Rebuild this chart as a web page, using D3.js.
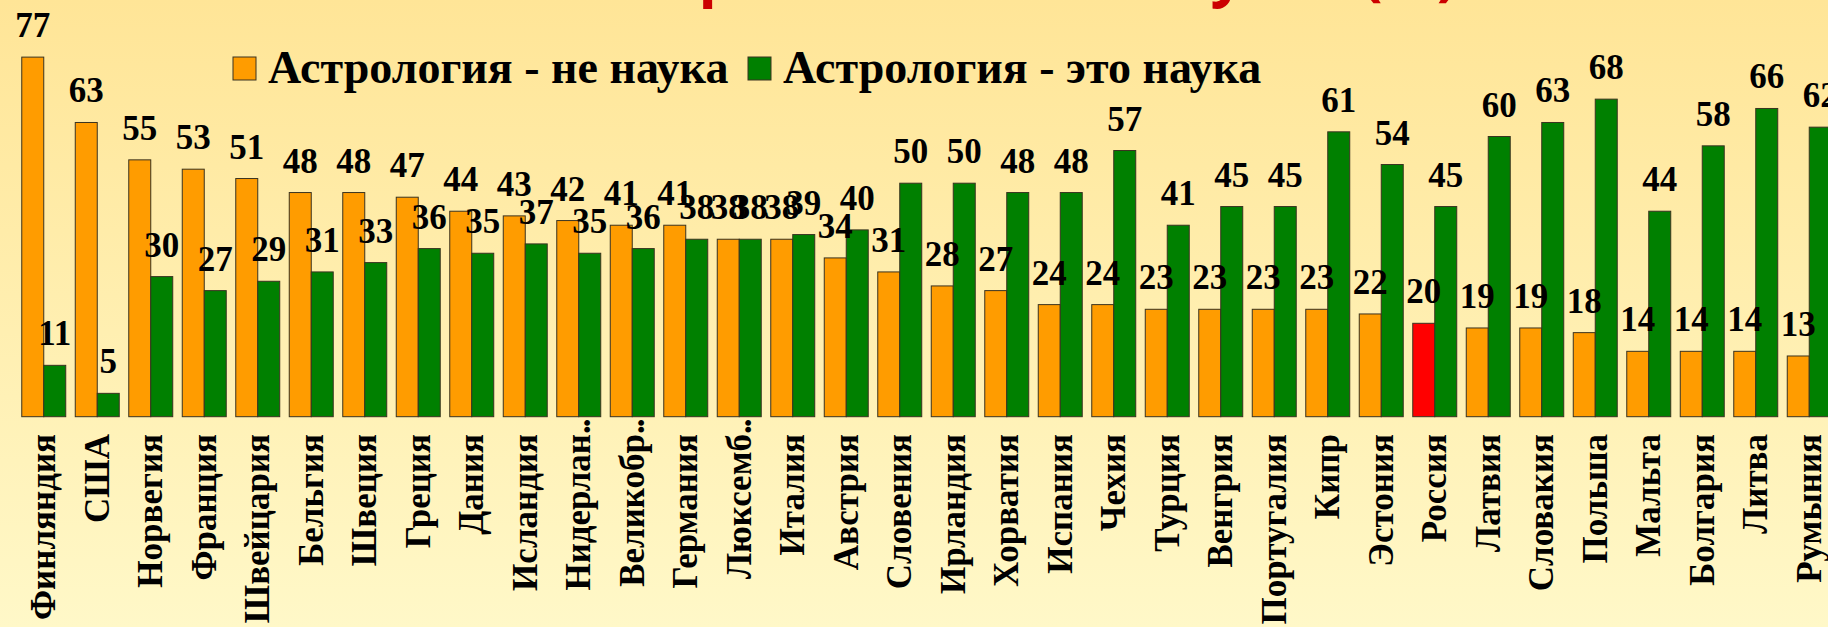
<!DOCTYPE html>
<html>
<head>
<meta charset="utf-8">
<script src="https://cdn.jsdelivr.net/npm/d3@7"></script>
<style>
  html, body { margin: 0; padding: 0; overflow: hidden; }
  body { width: 1828px; height: 627px; }
</style>
</head>
<body>
<div class="container"></div>
<script>
const countries = ["Финляндия", "США", "Норвегия", "Франция", "Швейцария", "Бельгия", "Швеция", "Греция",
    "Дания", "Исландия", "Нидерлан…", "Великобр…", "Германия", "Люксемб…", "Италия", "Австрия",
    "Словения", "Ирландия", "Хорватия", "Испания", "Чехия", "Турция", "Венгрия", "Португалия",
    "Кипр", "Эстония", "Россия", "Латвия", "Словакия", "Польша", "Мальта", "Болгария", "Литва", "Румыния"]
const notScience = [77, 63, 55, 53, 51, 48, 48, 47, 44, 43, 42, 41, 41, 38, 38, 34, 31, 28, 27, 24, 24,
    23, 23, 23, 23, 22, 20, 19, 19, 18, 14, 14, 14, 13]
const isScience = [11, 5, 30, 27, 29, 31, 33, 36, 35, 37, 35, 36, 38, 38, 39, 40, 50, 50, 48, 48, 57,
    41, 45, 45, 61, 54, 45, 60, 63, 68, 44, 58, 66, 62]
const seriesNames = ["Астрология - не наука", "Астрология - это наука"]
const highlight = "Россия"

const width = 1828
const height = 627
const colors = ["#ff9c00", "#008000"]

let svg = d3.select(".container")
    .append("svg")
    .attr("width", width)
    .attr("height", height)

// background
let defs = svg.append("defs")
let grad = defs.append("linearGradient")
    .attr("id", "bg")
    .attr("x1", 0).attr("y1", 0).attr("x2", 0).attr("y2", 1)
grad.append("stop").attr("offset", "0%").attr("stop-color", "#ffe597")
grad.append("stop").attr("offset", "100%").attr("stop-color", "#fff8c8")
svg.append("rect")
    .attr("width", width)
    .attr("height", height)
    .attr("fill", "url(#bg)")

// title, almost entirely above the top edge
svg.append("text")
    .attr("x", 1025)
    .attr("y", -6)
    .attr("text-anchor", "middle")
    .attr("font-family", "'Open Sans', sans-serif")
    .attr("font-weight", "bold")
    .attr("font-size", 60)
    .attr("fill", "#cc0000")
    .text("Астрология – это наука? (%)")

let data = countries.map((c, i) => ({ country: c, values: [notScience[i], isScience[i]] }))

let step = 53.5
let x0 = d3.scaleBand()
    .domain(countries)
    .range([17, 17 + step * countries.length])
    .paddingInner(0.178)
    .paddingOuter(0.089)

let x1 = d3.scaleBand()
    .domain([0, 1])
    .range([0, x0.bandwidth()])

let y = d3.scaleLinear()
    .domain([0, 80])
    .range([416.7, 43.1])

let groups = svg.append("g")
    .selectAll("g")
    .data(data)
    .join("g")
    .attr("transform", d => `translate(${x0(d.country)},0)`)

groups.selectAll("rect")
    .data(d => d.values.map((v, k) => ({ v, k, country: d.country })))
    .join("rect")
    .attr("x", d => x1(d.k))
    .attr("width", x1.bandwidth())
    .attr("y", d => y(d.v))
    .attr("height", d => y(0) - y(d.v))
    .attr("fill", d => (d.k === 0 && d.country === highlight) ? "#ff0000" : colors[d.k])
    .attr("stroke", "#3a3320")
    .attr("stroke-width", 1)

groups.selectAll("text.val")
    .data(d => d.values.map((v, k) => ({ v, k })))
    .join("text")
    .attr("class", "val")
    .attr("x", d => x1(d.k) + x1.bandwidth() / 2)
    .attr("y", d => y(d.v) - 20)
    .attr("text-anchor", "middle")
    .attr("font-family", "'Liberation Serif', 'Times New Roman', serif")
    .attr("font-weight", "bold")
    .attr("font-size", 35)
    .attr("fill", "#000")
    .text(d => d.v)

// category labels, rotated
let labelTop = 434
let labels = svg.append("g")
labels.selectAll("text")
    .data(countries)
    .join("text")
    .attr("transform", d => `translate(${x0(d) + x0.bandwidth() / 2},${labelTop}) rotate(-90)`)
    .attr("dy", "0.33em")
    .attr("text-anchor", "end")
    .attr("font-family", "'Liberation Serif', 'Times New Roman', serif")
    .attr("font-weight", "bold")
    .attr("font-size", 35)
    .attr("fill", "#000")
    .text(d => d.replace("…", ""))

// overflowing dots of the truncated names
labels.selectAll("text.dots")
    .data(countries.filter(d => d.endsWith("…")))
    .join("text")
    .attr("class", "dots")
    .attr("transform", d => `translate(${x0(d) + x0.bandwidth() / 2},${labelTop}) rotate(-90)`)
    .attr("dy", "0.33em")
    .attr("text-anchor", "start")
    .attr("font-family", "'Liberation Serif', 'Times New Roman', serif")
    .attr("font-weight", "bold")
    .attr("font-size", 35)
    .attr("letter-spacing", -2)
    .attr("fill", "#000")
    .text("..")

// legend
let legendX = [233, 748]
let legend = svg.append("g")
legend.selectAll("rect")
    .data(seriesNames)
    .join("rect")
    .attr("x", (d, i) => legendX[i])
    .attr("y", 57)
    .attr("width", 23)
    .attr("height", 23)
    .attr("fill", (d, i) => colors[i])
    .attr("stroke", "#3a3320")
legend.selectAll("text")
    .data(seriesNames)
    .join("text")
    .attr("x", (d, i) => legendX[i] + 35)
    .attr("y", 83)
    .attr("font-family", "'Liberation Serif', 'Times New Roman', serif")
    .attr("font-weight", "bold")
    .attr("font-size", 46)
    .attr("fill", "#000")
    .text(d => d)
</script>
</body>
</html>
